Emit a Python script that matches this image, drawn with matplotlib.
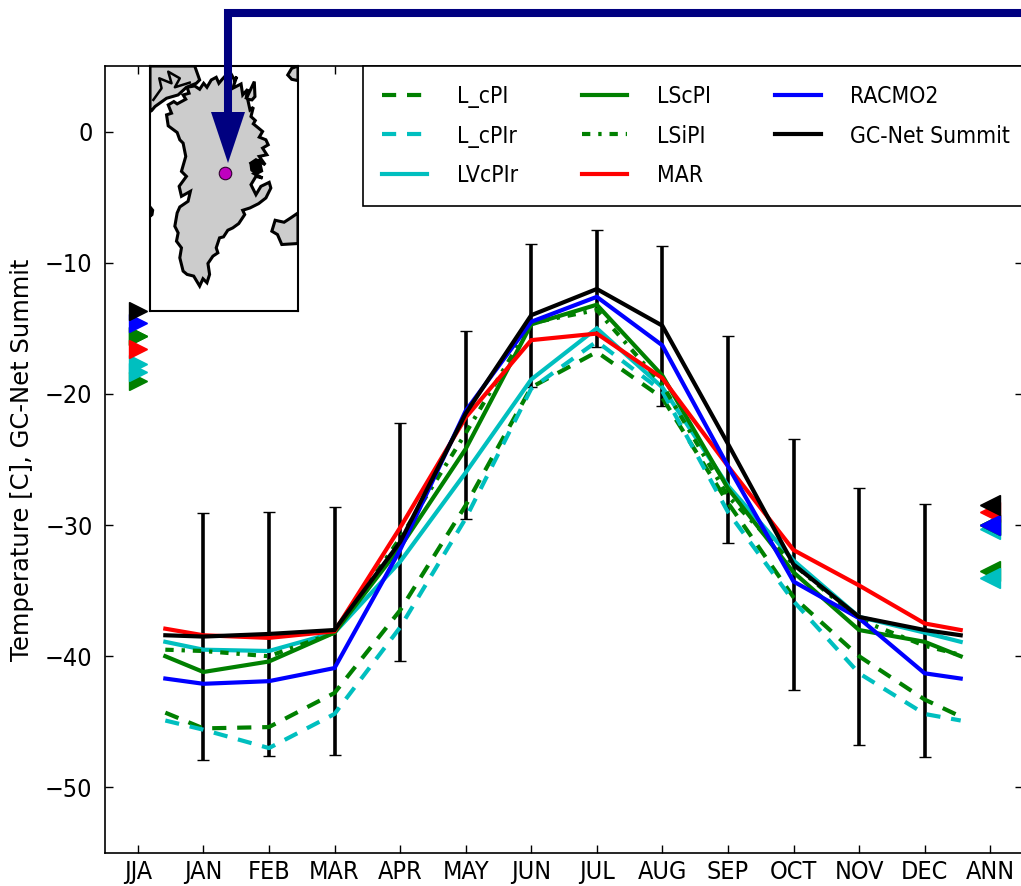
import matplotlib
matplotlib.use('Agg')
import matplotlib.pyplot as plt
from matplotlib.lines import Line2D
from matplotlib.patches import Polygon

W, H = 1021, 886

months = ['JJA', 'JAN', 'FEB', 'MAR', 'APR', 'MAY', 'JUN', 'JUL', 'AUG', 'SEP', 'OCT', 'NOV', 'DEC', 'ANN']
month_pos = list(range(14))
line_x = [0.42, 1, 2, 3, 4, 5, 6, 7, 8, 9, 10, 11, 12, 12.55]

# monthly means
l_cpi = [-44.3, -45.5, -45.4, -42.8, -36.5, -28.5, -19.5, -16.8, -20.3, -28.3, -35.5, -40.0, -43.3, -44.6]
l_cpir = [-44.9, -45.6, -47.0, -44.4, -37.8, -29.5, -19.6, -16.0, -19.8, -29.0, -35.8, -41.3, -44.4, -44.9]
lvcpir = [-38.9, -39.5, -39.6, -38.2, -32.8, -26.0, -18.9, -15.0, -19.5, -27.0, -32.7, -37.0, -38.2, -38.9]
lscpi = [-40.0, -41.2, -40.4, -38.2, -31.7, -24.2, -14.7, -13.2, -18.6, -27.2, -33.6, -38.0, -38.9, -40.0]
lsipi = [-39.5, -39.6, -40.0, -38.2, -31.0, -23.0, -14.6, -13.6, -19.3, -27.8, -33.0, -37.2, -39.2, -39.9]
mar = [-37.9, -38.4, -38.6, -38.1, -30.2, -21.8, -15.9, -15.4, -18.8, -25.5, -31.9, -34.6, -37.5, -38.0]
racmo2 = [-41.7, -42.1, -41.9, -40.9, -31.9, -21.3, -14.5, -12.6, -16.3, -25.5, -34.3, -37.1, -41.3, -41.7]
gcnet = [-38.4, -38.5, -38.3, -38.0, -31.3, -21.5, -14.0, -12.0, -14.8, -23.8, -33.0, -37.0, -38.0, -38.4]

# observed range at the station
err_x = [1, 2, 3, 4, 5, 6, 7, 8, 9, 10, 11, 12]
err_top = [-29.1, -29.0, -28.6, -22.2, -15.2, -8.6, -7.5, -8.7, -15.6, -23.4, -27.2, -28.4]
err_bot = [-47.9, -47.6, -47.5, -40.4, -29.5, -19.5, -16.4, -20.9, -31.4, -42.6, -46.8, -47.7]

# seasonal and annual means, same order as the series
names = ['L_cPI', 'L_cPIr', 'LVcPIr', 'LScPI', 'LSiPI', 'MAR', 'RACMO2', 'GC-Net Summit']
series = [l_cpi, l_cpir, lvcpir, lscpi, lsipi, mar, racmo2, gcnet]
colors = ['g', 'c', 'c', 'g', 'g', 'r', 'b', 'k']
styles = [(0, (3.4, 2.6)), (0, (3.4, 2.6)), '-', '-', (0, (2, 1.9, 0.8, 1.9)), '-', '-', '-']
jja = [-19.0, -18.3, -17.7, -15.6, -15.6, -16.6, -14.6, -13.7]
ann = [-33.5, -34.0, -30.3, -30.0, -30.0, -29.0, -30.0, -28.5]

# map outlines, in the pixel-like units of the inset
map_xlim = (150, 597)
map_ylim = (935, 198)
greenland_x = [205, 222, 232, 258, 250, 268, 262, 285, 300, 312, 322, 335, 350, 358, 368, 380, 395, 405, 412, 400, 425, 430, 445, 440,
               465, 467, 458, 445, 452, 462, 455, 468, 462, 478, 490, 480, 500, 507, 490, 503, 480, 498, 470, 455, 480, 465, 490, 470,
               455, 470, 485, 510, 515, 505, 500, 478, 452, 430, 436, 418, 400, 385, 372, 360, 350, 355, 340, 325, 330, 322, 310, 300,
               282, 262, 250, 240, 245, 230, 235, 225, 232, 240, 265, 272, 245, 238, 260, 245, 258, 250, 240, 232, 205, 200, 215, 205]
greenland_y = [315, 305, 312, 298, 285, 280, 262, 258, 268, 250, 262, 240, 232, 250, 238, 225, 222, 240, 230, 265, 252, 285, 268, 298,
               245, 290, 300, 298, 330, 322, 350, 362, 372, 385, 395, 412, 420, 435, 445, 465, 470, 495, 480, 490, 515, 522, 535, 530,
               555, 585, 560, 548, 565, 585, 595, 612, 625, 632, 645, 672, 685, 692, 712, 715, 745, 760, 770, 792, 825, 850, 838, 860,
               830, 825, 815, 775, 745, 725, 700, 680, 640, 622, 605, 575, 590, 560, 530, 515, 470, 430, 420, 398, 378, 345, 340, 315]
canada_x = [150, 285, 300, 290, 260, 235, 200, 165, 155, 150]
canada_y = [198, 198, 240, 250, 262, 285, 295, 320, 332, 335]
channel_x = [160, 185, 178, 215, 205, 240, 225, 270]
channel_y = [300, 265, 235, 250, 215, 235, 262, 248]
iceland_x = [597, 575, 555, 528, 518, 535, 548, 597]
iceland_y = [640, 655, 668, 662, 695, 705, 735, 732]
corner_x = [597, 578, 566, 578, 597]
corner_y = [198, 205, 225, 238, 242]
baffin_x = [150, 158, 156, 150]
baffin_y = [622, 632, 645, 650]
clump_x = [452, 482, 490, 470, 455]
clump_y = [490, 478, 515, 525, 512]
station_x = [377]
station_y = [521]

# arrow from the top right down to the station, figure pixels
arrow_x = [1021, 228, 228]
arrow_y = [13, 13, 114]
head_x = [211, 245, 228]
head_y = [112, 112, 163]

plt.rcParams['font.family'] = 'DejaVu Sans'
plt.rcParams['font.stretch'] = 'condensed'

fig = plt.figure(figsize=(W / 100, H / 100), dpi=100)
ax = fig.add_axes([105 / W, (H - 853) / H, (1023 - 105) / W, (853 - 66) / H])

ax.errorbar(err_x, [(a + b) / 2 for a, b in zip(err_top, err_bot)],
            yerr=[(a - b) / 2 for a, b in zip(err_top, err_bot)],
            fmt='none', ecolor='k', elinewidth=2.6, capsize=4.5, capthick=1)

for vals, name, c, ls, j, a in zip(series, names, colors, styles, jja, ann):
    ax.plot(line_x, vals, color=c, ls=ls, lw=3, label=name, solid_joinstyle='miter')
    ax.plot([0], [j], '>', color=c, ms=13, mew=1, mec=c, clip_on=False)
    ax.plot([13], [a], '<', color=c, ms=14, mew=1, mec=c, clip_on=False)

ax.set_xlim(-0.5, 13.5)
ax.set_ylim(-55, 5)
ax.set_xticks(month_pos)
ax.set_xticklabels(months)
ax.set_yticks([0, -10, -20, -30, -40, -50])
ax.tick_params(direction='in', length=6, width=1, top=True, right=True, labelsize=18)
ax.tick_params(axis='x', pad=5)
ax.tick_params(axis='y', pad=9)
ax.set_ylabel('Temperature [C], GC-Net Summit', fontsize=17.5, fontstretch='normal', labelpad=8)
for s in ax.spines.values():
    s.set_linewidth(1.2)

leg = ax.legend(ncol=3, loc='upper left', bbox_to_anchor=((363 - 105) / 918, 1.0), borderaxespad=0,
                fontsize=16.5, handlelength=1.97, handletextpad=1.3, columnspacing=2.8,
                labelspacing=0.72, borderpad=0.83, fancybox=False, framealpha=1)
leg.get_frame().set_edgecolor('k')
leg.get_frame().set_linewidth(1.2)

inset = fig.add_axes([150 / W, (H - 311) / H, 148 / W, 245 / H])
inset.set_xlim(map_xlim)
inset.set_ylim(map_ylim)
inset.set_xticks([])
inset.set_yticks([])
for s in inset.spines.values():
    s.set_linewidth(1.5)
for px, py in [(greenland_x, greenland_y), (canada_x, canada_y), (iceland_x, iceland_y),
               (corner_x, corner_y), (baffin_x, baffin_y)]:
    inset.fill(px, py, facecolor='#cccccc', edgecolor='k', lw=2.2)
inset.plot(channel_x, channel_y, color='k', lw=1.8)
inset.fill(clump_x, clump_y, facecolor='k', edgecolor='k', lw=1)
inset.plot(station_x, station_y, 'o', color='m', ms=9, mec='#300030', mew=0.8)

# arrow sits on top of everything, in figure pixels
fx = [v / W for v in arrow_x]
fy = [1 - v / H for v in arrow_y]
fig.add_artist(Line2D(fx, fy, color='navy', lw=5.8, transform=fig.transFigure,
                      solid_joinstyle='miter', solid_capstyle='butt'))
fig.add_artist(Polygon([(x / W, 1 - y / H) for x, y in zip(head_x, head_y)], closed=True,
                       facecolor='navy', edgecolor='none', transform=fig.transFigure))

fig.savefig('out.png', dpi=100)
